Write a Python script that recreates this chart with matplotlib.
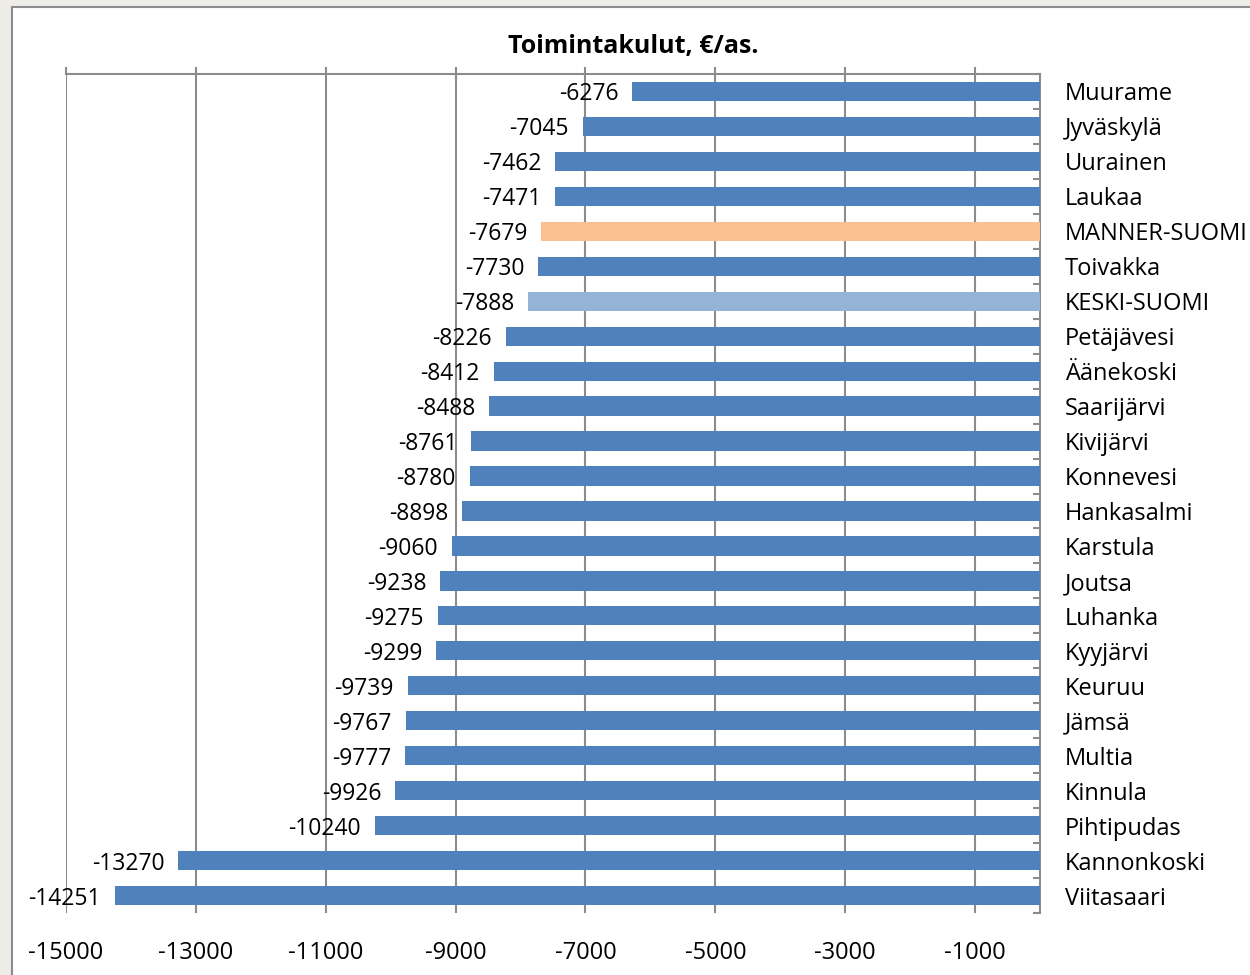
import numpy as np
import matplotlib.pyplot as plt
from matplotlib.patches import Rectangle

plt.rcParams['font.family'] = ['Open Sans', 'DejaVu Sans']

kunnat = ['Muurame', 'Jyväskylä', 'Uurainen', 'Laukaa', 'MANNER-SUOMI', 'Toivakka',
          'KESKI-SUOMI', 'Petäjävesi', 'Äänekoski', 'Saarijärvi', 'Kivijärvi', 'Konnevesi',
          'Hankasalmi', 'Karstula', 'Joutsa', 'Luhanka', 'Kyyjärvi', 'Keuruu', 'Jämsä',
          'Multia', 'Kinnula', 'Pihtipudas', 'Kannonkoski', 'Viitasaari']
kulut = [-6276, -7045, -7462, -7471, -7679, -7730, -7888, -8226, -8412, -8488, -8761,
         -8780, -8898, -9060, -9238, -9275, -9299, -9739, -9767, -9777, -9926, -10240,
         -13270, -14251]
ticks = [-15000, -13000, -11000, -9000, -7000, -5000, -3000, -1000]

blue = '#4F81BD'
cols = []
for k in kunnat:
    if k == 'MANNER-SUOMI':
        cols.append('#FAC090')
    elif k == 'KESKI-SUOMI':
        cols.append('#95B3D7')
    else:
        cols.append(blue)

fig = plt.figure(figsize=(12.5, 9.75), dpi=100)
fig.patch.set_facecolor('#EEECE7')
bg = Rectangle((12/1250, -0.01), 1.0, 1 - 7/975 + 0.01, transform=fig.transFigure,
               facecolor='white', edgecolor='#8C8C8C', lw=1.5, zorder=-5)
fig.add_artist(bg)

ax = fig.add_axes([66/1250, 1 - 913/975, (1040 - 66)/1250, (913 - 74)/975])
ax.set_zorder(2)
ax.set_facecolor('none')
n = len(kunnat)
y = np.arange(n)
ax.barh(y, kulut, height=0.55, color=cols, zorder=3)
ax.set_ylim(n - 0.5, -0.5)
ax.set_xlim(-15000, 0)

for yi, v in zip(y, kulut):
    ax.annotate(str(v), (v, yi), xytext=(-10, 0), textcoords='offset points',
                ha='right', va='center_baseline', fontsize=16.5, zorder=4)

ax.set_xticks(ticks)
ax.set_xticklabels([str(t) for t in ticks], fontsize=17)
ax.tick_params(axis='x', which='both', bottom=False, top=True, labelbottom=True,
               direction='out', length=5, width=1.5, color='#8C8C8C', pad=15)
ax.grid(axis='x', color='#8C8C8C', lw=1.5, zorder=1)

ax.yaxis.tick_right()
ax.set_yticks(y)
ax.set_yticklabels(kunnat, fontsize=17)
ax.set_yticks(np.arange(n + 1) - 0.5, minor=True)
ax.tick_params(axis='y', which='major', length=0, pad=18)
ax.tick_params(axis='y', which='minor', right=True, direction='in', length=5, width=1.5,
               color='#8C8C8C')

for s in ['left', 'bottom']:
    ax.spines[s].set_visible(False)
for s in ['top', 'right']:
    ax.spines[s].set_color('#8C8C8C')
    ax.spines[s].set_linewidth(1.5)

fig.text(633/1250, 1 - 46/975, 'Toimintakulut, €/as.', ha='center', va='center',
         fontsize=18, fontweight='bold')

fig.savefig('out.png', dpi=100, facecolor=fig.get_facecolor())
